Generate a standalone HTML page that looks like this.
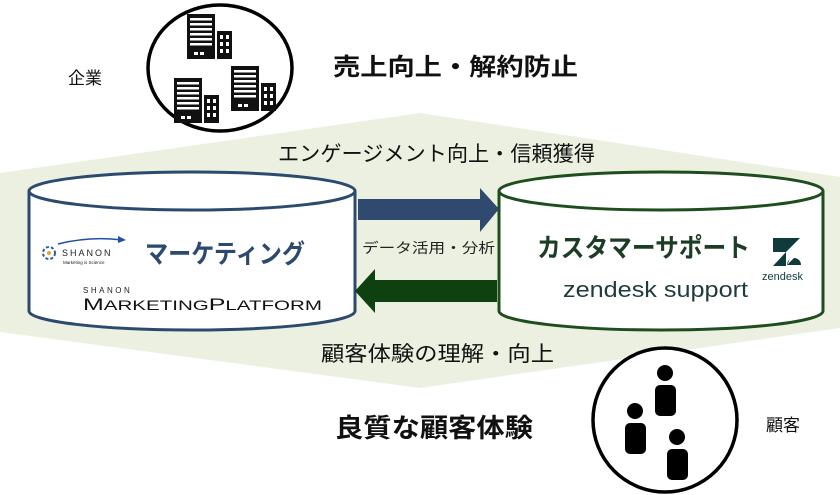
<!DOCTYPE html>
<html><head><meta charset="utf-8"><style>
html,body{margin:0;padding:0;background:#fff;width:840px;height:495px;overflow:hidden}
svg{display:block}
text{font-family:"Liberation Sans","Noto Sans CJK JP",sans-serif}
</style></head><body>
<svg width="840" height="495" viewBox="0 0 840 495" xmlns="http://www.w3.org/2000/svg">
<defs>
<g id="bld">
<rect x="0" y="0" width="28" height="45" fill="#111"/>
<rect x="3" y="4" width="22" height="2.5" fill="#fff"/><rect x="3" y="9" width="22" height="2.5" fill="#fff"/>
<rect x="3" y="14" width="22" height="2.5" fill="#fff"/><rect x="3" y="19" width="22" height="2.5" fill="#fff"/>
<rect x="3" y="24" width="22" height="2.5" fill="#fff"/><rect x="3" y="29" width="22" height="2.5" fill="#fff"/>
<rect x="7" y="38" width="4" height="3" fill="#fff"/><rect x="13" y="38" width="4" height="3" fill="#fff"/>
<rect x="30" y="17" width="15" height="28" fill="#111"/>
<rect x="33" y="21" width="3" height="4" fill="#fff"/><rect x="39" y="21" width="3" height="4" fill="#fff"/>
<rect x="33" y="28" width="3" height="4" fill="#fff"/><rect x="39" y="28" width="3" height="4" fill="#fff"/>
<rect x="33" y="35" width="3" height="4" fill="#fff"/><rect x="39" y="35" width="3" height="4" fill="#fff"/>
</g>
</defs>
<polygon points="420,113 840,177 840,328 420,388 0,332 0,173" fill="#ebf0e1"/>
<ellipse cx="220" cy="68" rx="72" ry="63" fill="#fff" stroke="#000" stroke-width="3.5"/>
<use href="#bld" x="187" y="14"/>
<use href="#bld" x="174" y="78"/>
<use href="#bld" x="231" y="66"/>
<text x="68" y="84" font-size="17" fill="#111">企業</text>
<text x="333" y="75" font-size="24" font-weight="bold" fill="#111" textLength="245" lengthAdjust="spacingAndGlyphs">売上向上・解約防止</text>
<text x="278" y="161" font-size="21" fill="#111" textLength="317" lengthAdjust="spacingAndGlyphs">エンゲージメント向上・信頼獲得</text>
<path d="M29,191 L29,311 A163,19 0 0 0 355,311 L355,191" fill="#fff" stroke="#2c4a6e" stroke-width="3"/>
<ellipse cx="192" cy="191" rx="163" ry="19" fill="#fff" stroke="#2c4a6e" stroke-width="3"/>
<path d="M499,191 L499,311 A162,19 0 0 0 823,311 L823,191" fill="#fff" stroke="#1e4d1e" stroke-width="3"/>
<ellipse cx="661" cy="191" rx="162" ry="19" fill="#fff" stroke="#1e4d1e" stroke-width="3"/>
<polygon points="358,199 480,199 480,188 499,209 480,232 480,220 358,220" fill="#2f4a6e"/>
<polygon points="497,280 375,280 375,269 355,291 375,313 375,302 497,302" fill="#0f4010"/>
<text x="362" y="253" font-size="14" fill="#222" textLength="133" lengthAdjust="spacingAndGlyphs">データ活用・分析</text>
<circle cx="49" cy="253" r="6" fill="none" stroke="#2f5aa0" stroke-width="2" stroke-dasharray="3 2"/>
<circle cx="49" cy="253" r="2" fill="#f0a020"/>
<path d="M58,244 Q90,236 122,240" fill="none" stroke="#1f4fa8" stroke-width="1.5"/>
<polygon points="118,236 126,240 118,243" fill="#1f4fa8"/>
<text x="62" y="256" font-size="9" letter-spacing="2" fill="#222">SHANON</text>
<text x="63" y="264" font-size="4.5" fill="#222">Marketing is Science</text>
<text x="145" y="263" font-size="26" font-weight="bold" fill="#2c4a70" textLength="160" lengthAdjust="spacingAndGlyphs">マーケティング</text>
<text x="83" y="293" font-size="8" letter-spacing="2.5" fill="#222">SHANON</text>
<text x="83" y="310" font-size="17" fill="#111" textLength="239" lengthAdjust="spacingAndGlyphs">M<tspan font-size="14">ARKETING</tspan>P<tspan font-size="14">LATFORM</tspan></text>
<text x="537" y="257" font-size="26" font-weight="bold" fill="#1c3d24" textLength="213" lengthAdjust="spacingAndGlyphs">カスタマーサポート</text>
<text x="563" y="297" font-size="22" fill="#1f3b3b" textLength="185" lengthAdjust="spacingAndGlyphs">zendesk support</text>
<polygon points="773,238 800,238 786,252 773,252" fill="#0f3b3b"/>
<polygon points="786,252 773,266 786,266" fill="#0f3b3b"/>
<path d="M787,265 A7,7 0 0 1 801,265 Z" fill="#0f3b3b"/>
<polygon points="800,238 800,252 787,265" fill="#fff"/>
<text x="762" y="280" font-size="11" fill="#0f3b3b">zendesk</text>
<text x="321" y="361" font-size="21" fill="#111" textLength="233" lengthAdjust="spacingAndGlyphs">顧客体験の理解・向上</text>
<text x="335" y="437" font-size="26" font-weight="bold" fill="#111" textLength="198" lengthAdjust="spacingAndGlyphs">良質な顧客体験</text>
<ellipse cx="665" cy="420" rx="72" ry="72" fill="#fff" stroke="#000" stroke-width="3.5"/>
<circle cx="665" cy="373" r="8" fill="#000"/><rect x="655" y="385" width="21" height="31" rx="5" fill="#000"/>
<circle cx="635" cy="411" r="8" fill="#000"/><rect x="625" y="423" width="21" height="31" rx="5" fill="#000"/>
<circle cx="677" cy="437" r="8" fill="#000"/><rect x="667" y="449" width="21" height="31" rx="5" fill="#000"/>
<text x="766" y="431" font-size="17" fill="#111">顧客</text>
</svg>
</body></html>
